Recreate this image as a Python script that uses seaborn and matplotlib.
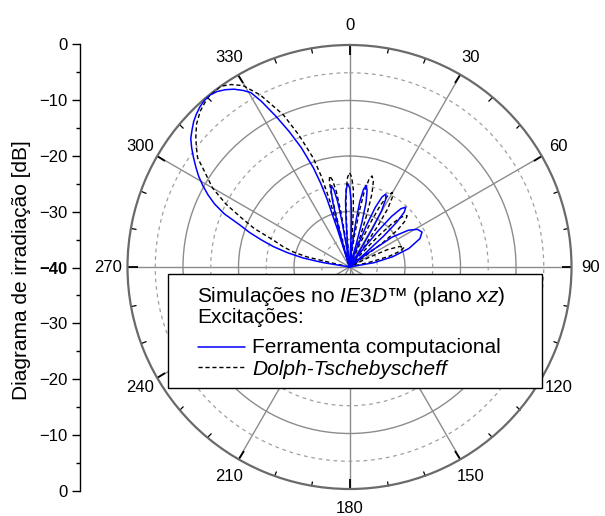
import numpy as np
import pandas as pd
import matplotlib
matplotlib.use("Agg")
import matplotlib.pyplot as plt
import seaborn as sns
from matplotlib.ticker import FixedLocator
from matplotlib.lines import Line2D
from matplotlib.patches import Rectangle

# ---------------- data (angle in degrees, clockwise from 0 at top; level in dB) -------------
ferramenta_theta = [
    -90, -81.5, -80.5, -79, -77, -75, -73, -71, -69, -67, -65, -63, -61, -59, -57, -55, -53,
    -51, -49, -47, -45, -43, -41, -39, -37, -35, -33, -31, -29.5, -28, -26, -24, -22, -20,
    -19, -18.3, -17.7, -17.3,
    -15.9, -15.2, -14.5, -13.5, -12.6, -11.4, -10.3, -9.4, -8.5, -6.8,
    -5.1, -4.2, -3.4, -2.2, -1.1, 0.2, 1.4, 2.4, 3.3, 5.2,
    7.1, 8.0, 9.0, 10.2, 11.5, 12.9, 14.4, 15.5, 16.5, 18.7,
    21.0, 22.2, 23.4, 24.9, 26.5, 28.1, 29.7, 30.8, 32.0, 34.4,
    37.0, 38.4, 39.7, 41.4, 43.2, 44.9, 46.5, 47.8, 49.0, 51.5,
    53, 55, 58, 61, 64.3, 68, 72.7, 76.6, 80, 84, 90,
]
ferramenta_db = [
    -40, -40, -35, -31.5, -28.5, -25.8, -23.5, -21, -18.8, -15.5, -13.2, -11.4, -9.8, -8.3, -7.0, -5.7, -4.4,
    -3.2, -2.4, -1.6, -1.0, -0.5, -0.2, -0.1, -0.4, -1.0, -1.8, -2.9, -3.9, -6.2, -9.8, -13.3, -16.8, -21,
    -24, -27, -33, -40,
    -36, -31.5, -28, -25.8, -25, -25.8, -28, -31.5, -36, -40,
    -36, -31.5, -28, -25.8, -25, -25.8, -28, -31.5, -36, -40,
    -36, -31.5, -28, -25.8, -25, -25.8, -28, -31.5, -36, -40,
    -36.3, -31.8, -28.3, -26.1, -25.3, -26.1, -28.3, -31.8, -36.3, -40,
    -36.2, -31.7, -28.2, -26.0, -25.2, -26.0, -28.2, -31.7, -36.2, -40,
    -36, -30.6, -27.5, -26, -25.5, -26.3, -28.8, -32, -35.5, -40, -40,
]

dolph_theta = [
    -90, -78, -77, -76.6, -75, -73, -70.6, -68, -65.4, -63, -60, -56.5, -54.3, -52, -49.9, -47,
    -43.7, -40, -35.5, -33, -30.4, -27.4, -23.5, -21, -18.4, -17.2, -16.6, -16.4, -16.2,
    -15.0, -14.4, -13.9, -13.1, -12.3, -11.1, -9.9, -9.0, -8.0, -6.2,
    -4.3, -3.4, -2.5, -1.2, 0, 1.4, 2.8, 3.8, 4.8, 6.9,
    9.0, 10.05, 11.1, 12.5, 13.9, 15.5, 17.0, 18.2, 19.4, 21.7,
    24.2, 25.4, 26.6, 28.3, 29.9, 31.6, 33.3, 34.6, 35.9, 38.5,
    41.4, 42.9, 44.4, 46.3, 48.3, 50.3, 52.4, 53.9, 55.4, 58.5,
    63.7, 65.4, 67.7, 70, 72.4, 74.8, 76.6, 78.4, 90,
]
dolph_db = [
    -40, -40, -36, -32, -29.5, -27.5, -25.5, -21.5, -18.4, -15, -11.5, -8.6, -6.3, -5.0, -3.8, -2.3,
    -1.1, -0.2, 0, -0.8, -2.1, -5.1, -10.1, -14.5, -19.3, -23, -27.5, -32, -40,
    -34.2, -29.7, -26.2, -24.0, -23.2, -24.0, -26.2, -29.7, -34.2, -40,
    -34, -29.5, -26, -23.8, -23, -23.8, -26, -29.5, -34, -40,
    -34.1, -29.6, -26.1, -23.9, -23.1, -23.9, -26.1, -29.6, -34.1, -40,
    -35.5, -31, -27.5, -25.3, -24.5, -25.3, -27.5, -31, -35.5, -40,
    -37.1, -32.6, -29.1, -26.9, -26.1, -26.9, -29.1, -32.6, -37.1, -40,
    -36, -32.5, -30.3, -29.5, -30.3, -32.5, -36, -40, -40,
]

theta_ticks = [0, 30, 60, 90, 120, 150, 180, 210, 240, 270, 300, 330]
theta_labels = ["0", "30", "60", "90", "120", "150", "180", "210", "240", "270", "300", "330"]
left_ticks = [0, 10, 20, 30, 40, 50, 60, 70, 80]
left_labels = ["0", "\u221210", "\u221220", "\u221230", "\u221240", "\u221230", "\u221220", "\u221210", "0"]

label_ferramenta = "Ferramenta computacional"
label_dolph = "Dolph-Tschebyscheff"
legend_title1 = "Simula\u00e7\u00f5es no $\\mathit{IE3D}$\u2122 (plano $\\mathit{xz}$)"
legend_title2 = "Excita\u00e7\u00f5es:"
ylabel = "Diagrama de irradia\u00e7\u00e3o [dB]"

# ---------------- style ----------------
sns.set_style("white")
plt.rcParams["font.family"] = ["Liberation Sans", "DejaVu Sans"]
plt.rcParams["mathtext.fontset"] = "custom"
plt.rcParams["mathtext.rm"] = "Liberation Sans"
plt.rcParams["mathtext.it"] = "Liberation Sans:italic"
for k in ["text.color", "axes.labelcolor", "xtick.color", "ytick.color"]:
    plt.rcParams[k] = "black"
plt.rcParams["ytick.left"] = True

W, H = 605, 516
fig = plt.figure(figsize=(W / 100, H / 100), dpi=100)
fig.patch.set_facecolor("white")


def fx(x):
    return x / W


def fy(y):
    return 1 - y / H


cx, cy, R = 349.5, 267.0, 222.0
ax = fig.add_axes([fx(cx - R), fy(cy + R), 2 * R / W, 2 * R / H], projection="polar")
ax.set_theta_zero_location("N")
ax.set_theta_direction(-1)

df_f = pd.DataFrame({"theta": np.deg2rad(ferramenta_theta), "dB": ferramenta_db})
df_d = pd.DataFrame({"theta": np.deg2rad(dolph_theta), "dB": dolph_db})
sns.lineplot(data=df_f, x="theta", y="dB", ax=ax, color="#0000ff", lw=1.1,
             sort=False, estimator=None, zorder=5)
sns.lineplot(data=df_d, x="theta", y="dB", ax=ax, color="black", lw=1.0,
             linestyle=(0, (3, 2)), sort=False, estimator=None, zorder=4)

ax.set_ylim(-40, 0)
ax.set_xlabel("")
ax.set_ylabel("")

# radial grid
ax.set_rgrids([-30, -20, -10], labels=[])
ax.yaxis.set_minor_locator(FixedLocator([-35, -25, -15, -5]))
ax.yaxis.grid(True, which="major", color="#8c8c8c", lw=1.0, ls="-")
ax.yaxis.grid(True, which="minor", color="#a0a0a0", lw=0.9, ls=(0, (3, 3)))
ax.tick_params(axis="y", which="both", length=0, labelleft=False, labelright=False)

# angular grid / ticks (tick marks on the outer circle, pointing inward)
ax.set_thetagrids(theta_ticks, labels=theta_labels)
ax.xaxis.set_minor_locator(FixedLocator(np.deg2rad(np.arange(0, 360, 10))))
ax.xaxis.grid(True, which="major", color="#8c8c8c", lw=1.0, ls="-")
ax.xaxis.grid(False, which="minor")
ax.tick_params(axis="x", which="major", bottom=False, top=True, direction="in",
               length=7, width=1.3, color="black", pad=7, labelsize=12,
               labelcolor="black", labelbottom=True, labeltop=False)
ax.tick_params(axis="x", which="minor", bottom=False, top=True, direction="in",
               length=4, width=0.9, color="black")
ax.spines["polar"].set_color("#6a6a6a")
ax.spines["polar"].set_linewidth(1.6)
ax.set_axisbelow(True)

# left linear scale
ax2 = fig.add_axes([fx(80), fy(490.7), 0.0005, (490.7 - 44.3) / H])
ax2.set_ylim(0, 80)
ax2.set_yticks(left_ticks)
ax2.set_yticklabels(left_labels)
ax2.yaxis.set_minor_locator(FixedLocator(np.arange(5, 80, 10)))
ax2.set_xticks([])
for s in ["top", "right", "bottom"]:
    ax2.spines[s].set_visible(False)
ax2.spines["left"].set_color("black")
ax2.spines["left"].set_linewidth(1.0)
ax2.patch.set_alpha(0)
ax2.tick_params(axis="y", which="major", left=True, direction="out", length=6, width=1.0,
                color="black", pad=3, labelsize=12, labelcolor="black")
ax2.tick_params(axis="y", which="minor", left=True, direction="out", length=3, width=1.0,
                color="black")
ax2.get_yticklabels()[4].set_fontweight("bold")

fig.text(fx(22), fy(270), ylabel, rotation=90, ha="center", va="center", fontsize=15,
         color="black")

# legend box
fig.add_artist(Rectangle((fx(168), fy(388)), (542 - 168) / W, (388 - 274) / H,
                         transform=fig.transFigure, facecolor="white",
                         edgecolor="black", lw=1.0, zorder=10))
fig.text(fx(197), fy(301.7), legend_title1, fontsize=15, va="baseline", zorder=12)
fig.text(fx(197), fy(323.3), legend_title2, fontsize=15, va="baseline", zorder=12)
fig.add_artist(Line2D([fx(198), fx(245)], [fy(347.3)] * 2, transform=fig.transFigure,
                      color="#0000ff", lw=1.1, zorder=12))
fig.add_artist(Line2D([fx(198), fx(245)], [fy(367.3)] * 2, transform=fig.transFigure,
                      color="black", lw=1.0, ls=(0, (3, 2)), zorder=12))
fig.text(fx(252), fy(353.3), label_ferramenta, fontsize=15, va="baseline", zorder=12)
fig.text(fx(252), fy(375), label_dolph, fontsize=15, style="italic", va="baseline", zorder=12)

fig.savefig("out.png", dpi=100)
